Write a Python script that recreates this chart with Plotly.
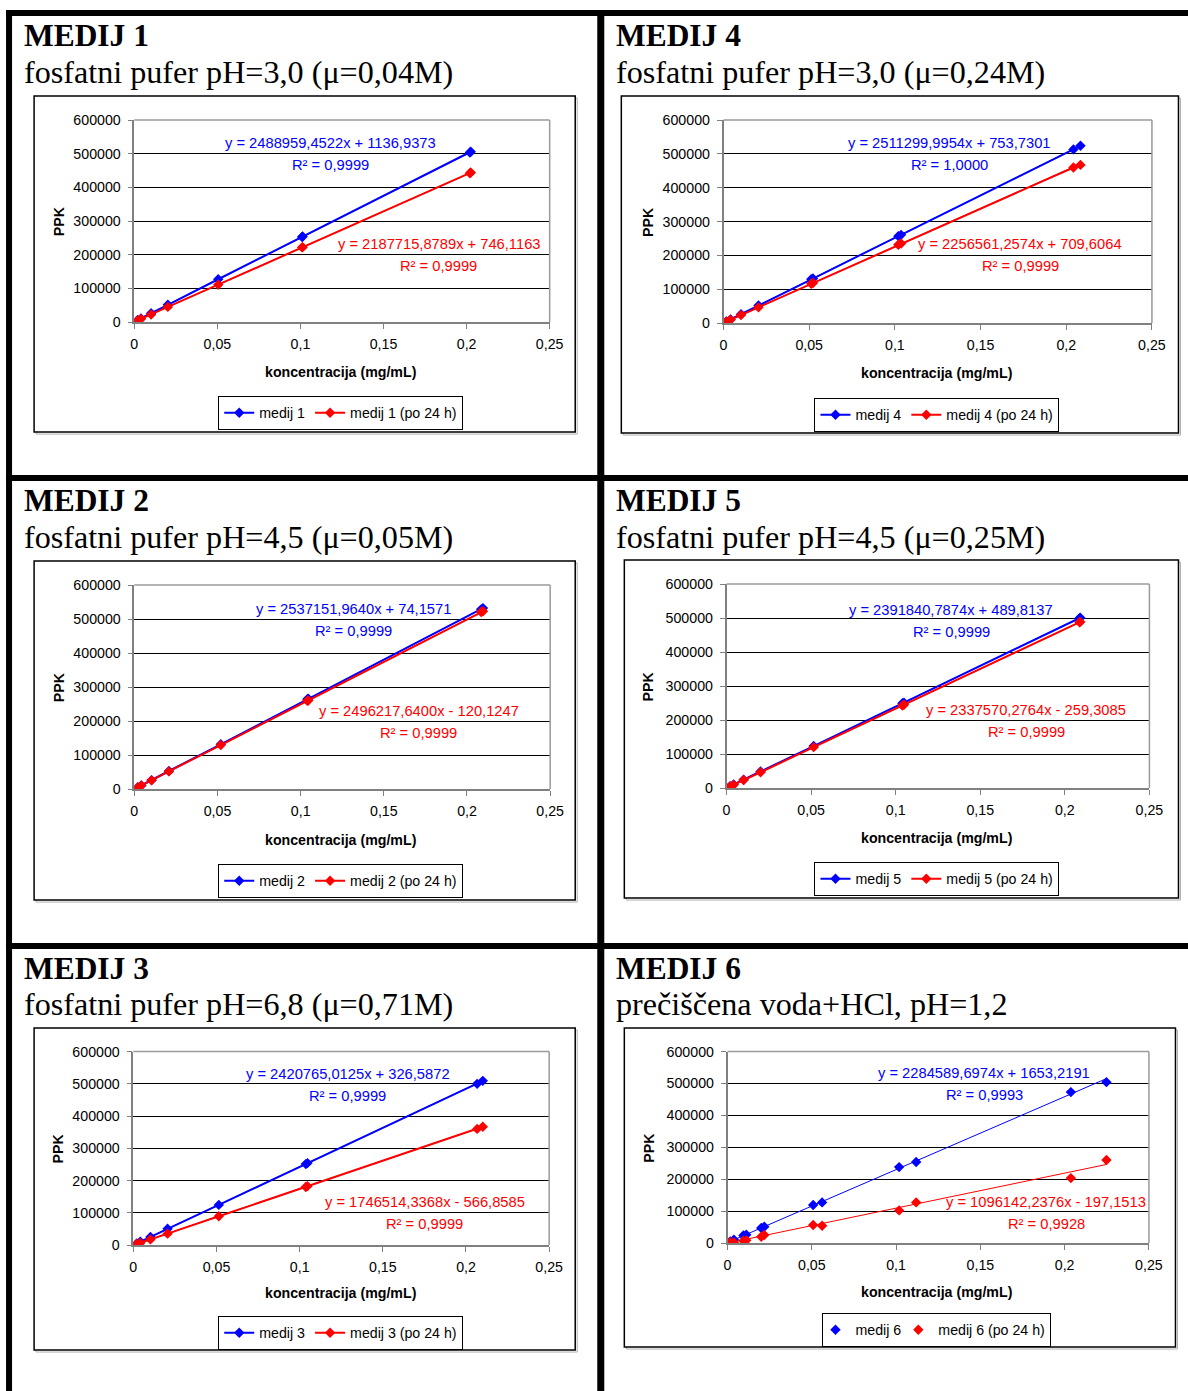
import plotly.graph_objects as go

# figure size and the mapping from on-screen pixels to figure fractions
# (the page has an 8px body margin and is displayed slightly reduced)
W, H = 1204, 1399
BODY = 8
SX, OX = 0.983, -2.9
SY, OY = 0.9886, 0.0
FONT_K = 1.0 / 0.986

# ---------------- data ----------------
x_ticks = [0, 0.05, 0.1, 0.15, 0.2, 0.25]
x_tick_labels = ["0", "0,05", "0,1", "0,15", "0,2", "0,25"]
y_ticks = [0, 100000, 200000, 300000, 400000, 500000, 600000]
y_tick_labels = ["0", "100000", "200000", "300000", "400000", "500000", "600000"]

# medij 1 - fosfatni pufer pH=3,0 (0,04M)
conc_m1 = [0.0020, 0.0040, 0.0101, 0.0202, 0.0505, 0.1010, 0.1013, 0.2020, 0.2025]
ppk_m1 = [6200, 10900, 26500, 51300, 127200, 252800, 254100, 503700, 506000]
ppk_m1_24h = [5000, 9600, 22700, 45100, 111000, 221900, 222600, 442300, 444100]
slope_m1 = [2488959.4522, 2187715.8789]
icept_m1 = [1136.9373, 746.1163]
r2_m1 = ["0,9999", "0,9999"]

# medij 4 - fosfatni pufer pH=3,0 (0,24M)
conc_m4 = [0.0016, 0.0041, 0.0102, 0.0204, 0.0512, 0.0522, 0.1020, 0.1036, 0.2042, 0.2083]
ppk_m4 = [4800, 11000, 26400, 51900, 129400, 131700, 257000, 260800, 513400, 524000]
ppk_m4_24h = [4300, 9900, 23800, 46500, 116400, 118300, 231500, 235200, 459800, 467500]
slope_m4 = [2511299.9954, 2256561.2574]
icept_m4 = [753.7301, 709.6064]
r2_m4 = ["1,0000", "0,9999"]

# medij 2 - fosfatni pufer pH=4,5 (0,05M)
conc_m2 = [0.0021, 0.0042, 0.0104, 0.0208, 0.0520, 0.1040, 0.1046, 0.2085, 0.2096]
ppk_m2 = [5300, 10800, 26300, 53100, 131700, 264200, 265800, 528600, 532300]
ppk_m2_24h = [5000, 10500, 25600, 52000, 129400, 259800, 260700, 520600, 522800]
slope_m2 = [2537151.9640, 2496217.6400]
icept_m2 = [74.1571, -120.1247]
r2_m2 = ["0,9999", "0,9999"]

# medij 5 - fosfatni pufer pH=4,5 (0,25M)
conc_m5 = [0.0021, 0.0042, 0.0101, 0.0201, 0.0515, 0.1040, 0.1049, 0.2087, 0.2091]
ppk_m5 = [5400, 10600, 24500, 48700, 123500, 249500, 251200, 499400, 500900]
ppk_m5_24h = [4700, 9500, 23500, 46600, 120300, 242600, 245200, 487400, 488800]
slope_m5 = [2391840.7874, 2337570.2764]
icept_m5 = [489.8137, -259.3085]
r2_m5 = ["0,9999", "0,9999"]

# medij 3 - fosfatni pufer pH=6,8 (0,71M)
conc_m3 = [0.0021, 0.0042, 0.0103, 0.0206, 0.0514, 0.1037, 0.1047, 0.2067, 0.2101]
ppk_m3 = [5300, 10600, 25100, 50300, 124500, 251000, 254100, 499800, 509200]
ppk_m3_24h = [3200, 6700, 17500, 35300, 89100, 180200, 182600, 360100, 366700]
slope_m3 = [2420765.0125, 1746514.3368]
icept_m3 = [326.5872, -566.8585]
r2_m3 = ["0,9999", "0,9999"]

# medij 6 - precisccena voda + HCl, pH=1,2
conc_m6 = [0.0016, 0.0038, 0.0094, 0.0111, 0.0200, 0.0218, 0.0508, 0.0561, 0.1018, 0.1119, 0.2037, 0.2248]
ppk_m6 = [5000, 10400, 24000, 26100, 47000, 51100, 119000, 127300, 238000, 253700, 472900, 504200]
ppk_m6_24h = [3000, 2000, 7300, 8400, 19800, 25000, 56400, 54300, 102300, 127300, 203500, 260000]
slope_m6 = [2284589.6974, 1096142.2376]
icept_m6 = [1653.2191, -197.1513]
r2_m6 = ["0,9993", "0,9928"]

panel_titles = ["MEDIJ 1", "MEDIJ 4", "MEDIJ 2", "MEDIJ 5", "MEDIJ 3", "MEDIJ 6"]
panel_subtitles = [
    "fosfatni pufer pH=3,0 (\u03bc=0,04M)",
    "fosfatni pufer pH=3,0 (\u03bc=0,24M)",
    "fosfatni pufer pH=4,5 (\u03bc=0,05M)",
    "fosfatni pufer pH=4,5 (\u03bc=0,25M)",
    "fosfatni pufer pH=6,8 (\u03bc=0,71M)",
    "pre\u010di\u0161\u010dena voda+HCl, pH=1,2",
]
series_names = [
    ["medij 1", "medij 1 (po 24 h)"],
    ["medij 4", "medij 4 (po 24 h)"],
    ["medij 2", "medij 2 (po 24 h)"],
    ["medij 5", "medij 5 (po 24 h)"],
    ["medij 3", "medij 3 (po 24 h)"],
    ["medij 6", "medij 6 (po 24 h)"],
]
x_title = "koncentracija (mg/mL)"
y_title = "PPK"

panels_data = [
    (conc_m1, ppk_m1, ppk_m1_24h, slope_m1, icept_m1, r2_m1),
    (conc_m4, ppk_m4, ppk_m4_24h, slope_m4, icept_m4, r2_m4),
    (conc_m2, ppk_m2, ppk_m2_24h, slope_m2, icept_m2, r2_m2),
    (conc_m5, ppk_m5, ppk_m5_24h, slope_m5, icept_m5, r2_m5),
    (conc_m3, ppk_m3, ppk_m3_24h, slope_m3, icept_m3, r2_m3),
    (conc_m6, ppk_m6, ppk_m6_24h, slope_m6, icept_m6, r2_m6),
]

# ---------------- layout geometry (on-screen pixels) ----------------
# each panel: heading left x, heading y, chart box, plot area, equation spots, legend centre
geom = [
    dict(hx=23, ty=35, sy=72, box=(35, 96, 575, 432), plot=(135, 120, 549.5, 322),
         eq=[(331, 143), (439, 244)], leg=(341, 413), ppk_x=60, xt_y=372, markers_only=False),
    dict(hx=614, ty=35, sy=72, box=(621, 96, 1177, 433), plot=(723, 120, 1150.5, 323),
         eq=[(948, 143), (1019, 244)], leg=(936, 415), ppk_x=647, xt_y=373, markers_only=False),
    dict(hx=23, ty=500, sy=537, box=(35, 561, 575, 900), plot=(135, 585, 550, 789),
         eq=[(354, 609), (419, 711)], leg=(341, 881), ppk_x=60, xt_y=840, markers_only=False),
    dict(hx=614, ty=500, sy=537, box=(624, 560, 1177, 898), plot=(726, 584, 1148, 788),
         eq=[(950, 610), (1025, 710)], leg=(936, 879), ppk_x=648, xt_y=838, markers_only=False),
    dict(hx=23, ty=968, sy=1004, box=(35, 1028, 575, 1350), plot=(134, 1051.5, 549, 1245),
         eq=[(348, 1074), (425, 1202)], leg=(341, 1333), ppk_x=59, xt_y=1293, markers_only=False),
    dict(hx=614, ty=968, sy=1004, box=(624, 1028, 1174, 1347), plot=(727, 1051.5, 1147.5, 1243),
         eq=[(983, 1073), (1045, 1202)], leg=(936, 1330), ppk_x=649, xt_y=1292, markers_only=True),
]

BLUE = "#0000FF"
RED = "#FF0000"
SANS = "Liberation Sans, Arial, sans-serif"
SERIF = "Liberation Serif, Times New Roman, serif"


def px(x):
    fx = (x - OX) / SX - BODY
    return min(max(fx / W, 0.0), 1.0)


def py(y):
    fy = (y - OY) / SY - BODY
    return min(max(1 - fy / H, 0.0), 1.0)


def fs(size):
    return round(size * FONT_K, 2)


def fmt_num(v):
    return f"{abs(v):.4f}".replace(".", ",")


def equation(slope, icept):
    sign = "+" if icept >= 0 else "-"
    return f"y = {fmt_num(slope)}x {sign} {fmt_num(icept)}"


fig = go.Figure()
shapes = []
annotations = []
layout_extra = {}

for i, (g, d) in enumerate(zip(geom, panels_data)):
    n = i + 1
    xa = "x" if n == 1 else f"x{n}"
    ya = "y" if n == 1 else f"y{n}"
    leg = "legend" if n == 1 else f"legend{n}"
    conc, ppk, ppk24, slope, icept, r2 = d
    colors = [BLUE, RED]

    # fitted trend lines from the stated regression equations
    xf = [min(conc), max(conc)]
    for k in range(2):
        fig.add_trace(go.Scatter(
            x=xf, y=[slope[k] * v + icept[k] for v in xf], mode="lines",
            line=dict(color=colors[k], width=1), xaxis=xa, yaxis=ya,
            showlegend=False, hoverinfo="skip"))

    # measured series
    for k, vals in enumerate([ppk, ppk24]):
        fig.add_trace(go.Scatter(
            x=conc, y=vals, name=series_names[i][k],
            mode="markers" if g["markers_only"] else "lines+markers",
            line=dict(color=colors[k], width=2),
            marker=dict(symbol="diamond", size=8, color=colors[k]),
            xaxis=xa, yaxis=ya, legend=leg))

    x0, y0, x1, y1 = g["plot"]
    axis_common = dict(
        showline=True, linecolor="#808080", linewidth=1.5,
        ticks="outside", ticklen=5, tickcolor="#808080", tickwidth=1,
        tickfont=dict(family=SANS, size=fs(14), color="black"),
        zeroline=False, fixedrange=True,
    )
    layout_extra["xaxis" if n == 1 else f"xaxis{n}"] = dict(
        domain=[px(x0), px(x1)], anchor=ya, range=[0, 0.25],
        tickvals=x_ticks, ticktext=x_tick_labels, showgrid=False,
        ticklabelstandoff=3, **axis_common)
    layout_extra["yaxis" if n == 1 else f"yaxis{n}"] = dict(
        domain=[py(y1), py(y0)], anchor=xa, range=[0, 600000],
        tickvals=y_ticks, ticktext=y_tick_labels, showgrid=True,
        gridcolor="black", gridwidth=1, ticklabelstandoff=4, **axis_common)

    # top and right edges of the plot area
    shapes.append(dict(type="line", xref=f"{xa} domain", yref=f"{ya} domain",
                       x0=0, x1=1, y0=1, y1=1, line=dict(color="#9a9a9a", width=1.5)))
    shapes.append(dict(type="line", xref=f"{xa} domain", yref=f"{ya} domain",
                       x0=1, x1=1, y0=0, y1=1, line=dict(color="#9a9a9a", width=1.5)))

    # chart frame with a faint shadow
    bx0, by0, bx1, by1 = g["box"]
    shapes.append(dict(type="rect", xref="paper", yref="paper",
                       x0=px(bx0 + 2), x1=px(bx1 + 2), y0=py(by1 + 2), y1=py(by0 + 2),
                       line=dict(color="#b0b0b0", width=1), layer="below"))
    shapes.append(dict(type="rect", xref="paper", yref="paper",
                       x0=px(bx0), x1=px(bx1), y0=py(by1), y1=py(by0),
                       line=dict(color="black", width=1.5), fillcolor="white", layer="below"))

    # headings
    annotations.append(dict(text=f"<b>{panel_titles[i]}</b>", x=px(g["hx"]), y=py(g["ty"]),
                            xref="paper", yref="paper", xanchor="left", yanchor="middle",
                            showarrow=False, font=dict(family=SERIF, size=fs(31), color="black")))
    annotations.append(dict(text=panel_subtitles[i], x=px(g["hx"]), y=py(g["sy"]),
                            xref="paper", yref="paper", xanchor="left", yanchor="middle",
                            showarrow=False, font=dict(family=SERIF, size=fs(31.7), color="black")))

    # axis titles
    annotations.append(dict(text=f"<b>{y_title}</b>", x=px(g["ppk_x"]), y=py((y0 + y1) / 2),
                            xref="paper", yref="paper", textangle=-90, showarrow=False,
                            xanchor="center", yanchor="middle",
                            font=dict(family=SANS, size=fs(14), color="black")))
    annotations.append(dict(text=f"<b>{x_title}</b>", x=px(g["leg"][0]), y=py(g["xt_y"]),
                            xref="paper", yref="paper", showarrow=False,
                            xanchor="center", yanchor="middle",
                            font=dict(family=SANS, size=fs(14), color="black")))

    # regression equations
    for k in range(2):
        ex, ey = g["eq"][k]
        annotations.append(dict(text=equation(slope[k], icept[k]), x=px(ex), y=py(ey),
                                xref="paper", yref="paper", showarrow=False,
                                xanchor="center", yanchor="middle",
                                font=dict(family=SANS, size=fs(14.5), color=colors[k])))
        annotations.append(dict(text=f"R\u00b2 = {r2[k]}", x=px(ex), y=py(ey + 22),
                                xref="paper", yref="paper", showarrow=False,
                                xanchor="center", yanchor="middle",
                                font=dict(family=SANS, size=fs(14.5), color=colors[k])))

    lx, ly = g["leg"]
    layout_extra[leg] = dict(
        x=px(lx), y=py(ly), xanchor="center", yanchor="middle", orientation="h",
        bgcolor="white", bordercolor="black", borderwidth=1,
        font=dict(family=SANS, size=fs(14), color="black"), itemwidth=30,
        indentation=-8 if g["markers_only"] else 0,
        itemclick=False, itemdoubleclick=False,
    )

# heavy black frame lines of the table
for (a, b, c, d) in [(7, 10, 1188, 16), (7, 10, 13, 1391), (597, 10, 604, 1391),
                     (7, 475, 1188, 481), (7, 943, 1188, 949)]:
    shapes.append(dict(type="rect", xref="paper", yref="paper",
                       x0=px(a), x1=px(c), y0=py(d), y1=py(b),
                       line=dict(width=0), fillcolor="black", layer="above"))

fig.update_layout(
    width=W, height=H, autosize=False,
    margin=dict(l=0, r=0, t=0, b=0),
    paper_bgcolor="white", plot_bgcolor="white",
    shapes=shapes, annotations=annotations,
    showlegend=True,
    **layout_extra,
)

fig.write_html("out.html", config={"displayModeBar": False})
